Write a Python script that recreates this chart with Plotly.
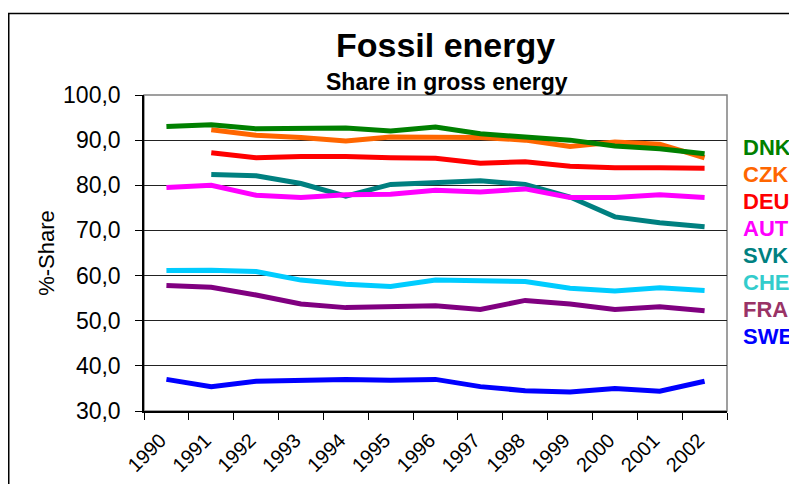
import plotly.graph_objects as go

# ----------------------------------------------------------------------------- Dados
anos = ["1990", "1991", "1992", "1993", "1994", "1995", "1996",
        "1997", "1998", "1999", "2000", "2001", "2002"]

dnk = [93.0, 93.4, 92.5, 92.5, 92.7, 92.0, 92.9, 91.4, 90.8, 90.0, 88.7, 88.1, 87.0]
czk = [None, 92.3, 91.1, 90.6, 89.8, 90.7, 90.6, 90.6, 90.0, 88.6, 89.6, 89.1, 86.1]
deu = [None, 87.2, 86.1, 86.4, 86.4, 86.1, 86.0, 84.9, 85.2, 84.2, 83.9, 83.9, 83.8]
aut = [79.5, 80.0, 77.8, 77.3, 77.9, 78.0, 78.9, 78.5, 79.2, 77.3, 77.3, 77.9, 77.3]
svk = [None, 82.4, 82.1, 80.4, 77.6, 80.2, 80.7, 81.0, 80.2, 77.4, 73.0, 71.7, 70.8]
che = [61.1, 61.2, 60.9, 59.0, 58.1, 57.6, 59.0, 58.9, 58.7, 57.2, 56.6, 57.3, 56.7]
fra = [57.8, 57.4, 55.7, 53.7, 52.9, 53.0, 53.3, 52.5, 54.5, 53.7, 52.5, 53.1, 52.2]
swe = [37.0, 35.4, 36.6, 36.8, 37.0, 36.8, 37.0, 35.4, 34.5, 34.2, 35.0, 34.4, 36.6]

paises = ["DNK", "CZK", "DEU", "AUT", "SVK", "CHE", "FRA", "SWE"]
series = [dnk, czk, deu, aut, svk, che, fra, swe]
cores_linha = ["#008000", "#FF6600", "#FF0000", "#FF00FF", "#008080", "#00CCFF", "#800080", "#0000FF"]
cores_texto = ["#008000", "#FF6600", "#FF0000", "#FF00FF", "#008080", "#33CCCC", "#993366", "#0000FF"]

# ----------------------------------------------------------------------------- Geometria (px na janela)
# a página tem margem de 8px no body, então a figura é 8px menor e deslocada
OFF = 8
W, H = 797, 484
L, R, T, B = 144, 727, 95, 411


def px_x(px):
    return (px - L) / (R - L)


def px_y(py):
    return (B - py) / (B - T)


fonte = "Liberation Sans, Arial, sans-serif"

fig = go.Figure()

# desenha de baixo para cima para DNK ficar por cima
for pais, valores, cor in reversed(list(zip(paises, series, cores_linha))):
    fig.add_trace(go.Scatter(
        x=anos,
        y=valores,
        name=pais,
        mode="lines",
        line=dict(color=cor, width=5),
        connectgaps=False,
        showlegend=False,
    ))

# Rótulos da legenda como texto colorido
for i, (pais, cor) in enumerate(zip(paises, cores_texto)):
    fig.add_annotation(
        x=px_x(741), y=px_y(147 + i * 27.1),
        xref="paper", yref="paper",
        text=f"<b>{pais}</b>",
        showarrow=False,
        xanchor="left", yanchor="middle",
        font=dict(family=fonte, size=22, color=cor),
    )

# Título e subtítulo
fig.add_annotation(
    x=px_x(445), y=px_y(45), xref="paper", yref="paper",
    text="<b>Fossil energy</b>", showarrow=False,
    xanchor="center", yanchor="middle",
    font=dict(family=fonte, size=34, color="black"),
)
fig.add_annotation(
    x=px_x(447), y=px_y(82), xref="paper", yref="paper",
    text="<b>Share in gross energy</b>", showarrow=False,
    xanchor="center", yanchor="middle",
    font=dict(family=fonte, size=23, color="black"),
)

# Moldura externa do gráfico
fig.add_shape(
    type="rect", xref="paper", yref="paper",
    x0=px_x(OFF + 0.75), x1=px_x(830), y0=px_y(13.5), y1=px_y(530),
    line=dict(color="black", width=1.5),
    layer="below",
)
# Borda cinza da área de plotagem
fig.add_shape(
    type="rect", xref="paper", yref="paper",
    x0=0, x1=1, y0=0, y1=1,
    line=dict(color="#808080", width=1.5),
    layer="below",
)

fig.update_layout(
    width=W - OFF, height=H - OFF,
    plot_bgcolor="white",
    paper_bgcolor="white",
    margin=dict(l=L - OFF, r=W - R, t=T - OFF, b=H - B, autoexpand=False),
    separators=", ",
    font=dict(family=fonte, color="black"),
    xaxis=dict(
        type="category",
        range=[-0.5, 12.5],
        tickson="boundaries",
        ticks="outside",
        ticklen=7,
        tickcolor="black",
        tickangle=-45,
        tickfont=dict(size=20),
        ticklabelstandoff=8,
        ticklabelshift=-6,
        showgrid=False,
        showline=True,
        linecolor="black",
        linewidth=1.5,
        zeroline=False,
    ),
    yaxis=dict(
        range=[30, 100],
        dtick=10,
        tickformat=".1f",
        ticks="outside",
        ticklen=7,
        tickcolor="black",
        tickfont=dict(size=23),
        ticklabelstandoff=10,
        showgrid=True,
        gridcolor="#222222",
        gridwidth=1,
        showline=True,
        linecolor="black",
        linewidth=1.5,
        zeroline=False,
        title=dict(text="%-Share", font=dict(size=22), standoff=2),
    ),
)

fig.write_html("out.html")
